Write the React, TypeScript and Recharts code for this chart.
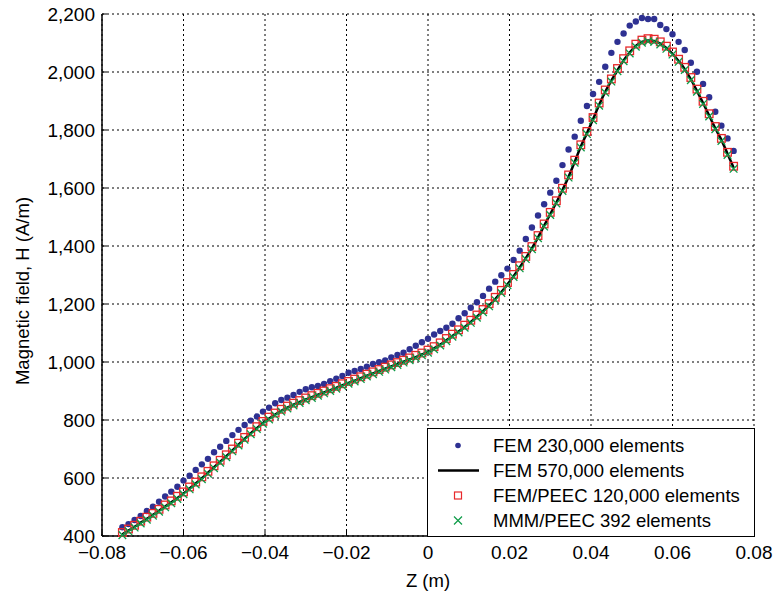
import React from "react";
import { ComposedChart, Line, Scatter, XAxis, YAxis, CartesianGrid } from "recharts";

// axial position along the coil (m)
const zPoints = [
  -0.075, -0.0735, -0.072, -0.0705, -0.069, -0.0675, -0.066, -0.0645, -0.063, -0.0615,
  -0.06, -0.0585, -0.057, -0.0555, -0.054, -0.0525, -0.051, -0.0495, -0.048, -0.0465,
  -0.045, -0.0435, -0.042, -0.0405, -0.039, -0.0375, -0.036, -0.0345, -0.033, -0.0315,
  -0.03, -0.0285, -0.027, -0.0255, -0.024, -0.0225, -0.021, -0.0195, -0.018, -0.0165,
  -0.015, -0.0135, -0.012, -0.0105, -0.009, -0.0075, -0.006, -0.0045, -0.003, -0.0015,
  0, 0.0015, 0.003, 0.0045, 0.006, 0.0075, 0.009, 0.0105, 0.012, 0.0135,
  0.015, 0.0165, 0.018, 0.0195, 0.021, 0.0225, 0.024, 0.0255, 0.027, 0.0285,
  0.03, 0.0315, 0.033, 0.0345, 0.036, 0.0375, 0.039, 0.0405, 0.042, 0.0435,
  0.045, 0.0465, 0.048, 0.0495, 0.051, 0.0525, 0.054, 0.0555, 0.057, 0.0585,
  0.06, 0.0615, 0.063, 0.0645, 0.066, 0.0675, 0.069, 0.0705, 0.072, 0.0735,
  0.075,
];

const fem230k = [
  430, 441, 455, 469, 486, 501, 518, 536, 553, 570,
  591, 608, 628, 647, 666, 689, 708, 728, 748, 766,
  783, 798, 812, 829, 842, 858, 869, 877, 886, 897,
  906, 913, 917, 924, 934, 942, 952, 963, 969, 976,
  984, 993, 999, 1005, 1016, 1024, 1032, 1044, 1056, 1068,
  1080, 1095, 1107, 1118, 1132, 1151, 1168, 1187, 1206, 1228,
  1253, 1277, 1299, 1322, 1352, 1384, 1424, 1464, 1505, 1544,
  1584, 1625, 1679, 1733, 1777, 1832, 1883, 1924, 1966, 2018,
  2066, 2104, 2133, 2160, 2174, 2186, 2183, 2183, 2162, 2148,
  2130, 2104, 2076, 2032, 2001, 1959, 1913, 1863, 1815, 1771,
  1728,
];

const fem570k = [
  406, 419, 432, 446, 459, 473, 487, 502, 516, 531,
  547, 564, 581, 599, 618, 637, 656, 675, 695, 715,
  735, 754, 772, 790, 805, 819, 832, 843, 853, 862,
  871, 879, 887, 895, 903, 911, 920, 928, 936, 944,
  953, 961, 969, 977, 985, 993, 1001, 1009, 1017, 1026,
  1035, 1047, 1060, 1075, 1090, 1105, 1121, 1138, 1156, 1175,
  1195, 1217, 1241, 1268, 1296, 1326, 1358, 1392, 1430, 1470,
  1510, 1550, 1593, 1639, 1690, 1743, 1789, 1837, 1887, 1932,
  1970, 2006, 2040, 2067, 2090, 2104, 2109, 2107, 2098, 2083,
  2063, 2038, 2010, 1975, 1935, 1893, 1850, 1806, 1766, 1718,
  1670,
];

const femPeec = [
  412, 424, 437, 451, 465, 478, 492, 507, 521, 537,
  552, 569, 586, 604, 623, 642, 661, 680, 700, 720,
  740, 759, 777, 795, 810, 824, 837, 848, 858, 867,
  876, 884, 892, 900, 908, 916, 925, 933, 941, 949,
  958, 966, 974, 982, 990, 998, 1006, 1014, 1023, 1031,
  1041, 1053, 1066, 1081, 1096, 1111, 1127, 1144, 1162, 1181,
  1201, 1223, 1247, 1274, 1302, 1332, 1364, 1398, 1436, 1476,
  1516, 1556, 1599, 1645, 1696, 1749, 1795, 1843, 1893, 1938,
  1976, 2012, 2046, 2073, 2096, 2110, 2115, 2113, 2104, 2089,
  2069, 2044, 2016, 1981, 1941, 1899, 1856, 1812, 1771, 1723,
  1675,
];

const mmmPeec = [
  403, 416, 429, 443, 456, 470, 484, 499, 513, 528,
  544, 561, 578, 596, 615, 634, 653, 672, 692, 712,
  732, 751, 769, 787, 802, 816, 829, 840, 850, 859,
  868, 876, 884, 892, 900, 908, 917, 925, 933, 941,
  950, 958, 966, 974, 982, 990, 998, 1006, 1014, 1023,
  1032, 1044, 1057, 1072, 1087, 1102, 1118, 1135, 1153, 1172,
  1192, 1214, 1238, 1265, 1293, 1323, 1355, 1389, 1427, 1467,
  1507, 1547, 1590, 1636, 1687, 1740, 1786, 1834, 1884, 1929,
  1967, 2003, 2037, 2064, 2087, 2101, 2106, 2104, 2095, 2080,
  2060, 2035, 2007, 1972, 1932, 1890, 1847, 1803, 1762, 1714,
  1666,
];

const xTicks = [-0.08, -0.06, -0.04, -0.02, 0, 0.02, 0.04, 0.06, 0.08];
const yTicks = [400, 600, 800, 1000, 1200, 1400, 1600, 1800, 2000, 2200];

const FONT = "'Liberation Sans', Arial, Helvetica, sans-serif";
const BLUE = "#2e3192";
const RED = "#e8282b";
const GREEN = "#0e9b48";

const toPoints = (hs: number[]) => zPoints.map((z, i) => ({ z, h: hs[i] }));

const fmtZ = (v: number) =>
  v === 0 ? "0" : (v < 0 ? "\u2212" : "") + Math.abs(v).toFixed(2);
const fmtH = (v: number) => v.toLocaleString("en-US");

const BlueDot = (p: any) => <circle cx={p.cx} cy={p.cy} r={3.2} fill={BLUE} />;
const RedSquare = (p: any) => (
  <rect x={p.cx - 3.8} y={p.cy - 3.8} width={7.6} height={7.6} fill="none" stroke={RED} strokeWidth={1.3} />
);
const GreenCross = (p: any) => (
  <path
    d={`M${p.cx - 3.8},${p.cy - 3.8}L${p.cx + 3.8},${p.cy + 3.8}M${p.cx + 3.8},${p.cy - 3.8}L${p.cx - 3.8},${p.cy + 3.8}`}
    stroke={GREEN}
    strokeWidth={1.3}
    fill="none"
  />
);

const tickStyle = { fill: "#000", fontSize: 19, fontFamily: FONT };

const YTitle = () => (
  <text
    x={22}
    y={291}
    transform="rotate(-90 22 291)"
    textAnchor="middle"
    dominantBaseline="central"
    fontSize={18.5}
    fontFamily={FONT}
    fill="#000"
  >
    Magnetic field, H (A/m)
  </text>
);

const legendItems = [
  { name: "FEM 230,000 elements", kind: "dot" },
  { name: "FEM 570,000 elements", kind: "line" },
  { name: "FEM/PEEC 120,000 elements", kind: "square" },
  { name: "MMM/PEEC 392 elements", kind: "cross" },
];

function LegendSymbol({ kind }: { kind: string }) {
  return (
    <svg width={44} height={25} style={{ position: "absolute", left: 9, top: 0 }}>
      {kind === "dot" && <circle cx={21} cy={12.5} r={2.8} fill={BLUE} />}
      {kind === "line" && <line x1={1} x2={42} y1={12.5} y2={12.5} stroke="#000" strokeWidth={2.5} />}
      {kind === "square" && (
        <rect x={17.5} y={9} width={7} height={7} fill="none" stroke={RED} strokeWidth={1.2} />
      )}
      {kind === "cross" && (
        <path d="M17,8.5L25,16.5M25,8.5L17,16.5" stroke={GREEN} strokeWidth={1.2} />
      )}
    </svg>
  );
}

export default function App() {
  return (
    <div style={{ position: "absolute", left: 0, top: 0, width: 779, height: 596, background: "#fff" }}>
      <ComposedChart width={779} height={596} margin={{ top: 14, right: 25, bottom: 0, left: 0 }}>
        <CartesianGrid stroke="#000" strokeDasharray="2 3" strokeWidth={1} />
        <XAxis
          dataKey="z"
          type="number"
          domain={[-0.08, 0.08]}
          ticks={xTicks}
          tickFormatter={fmtZ}
          height={60}
          tick={tickStyle}
          tickSize={-5}
          tickMargin={15}
          axisLine={{ stroke: "#000", strokeWidth: 1.5 }}
          tickLine={{ stroke: "#000" }}
          label={{ value: "Z (m)", position: "insideBottom", offset: 9, fill: "#000", fontSize: 18.5, fontFamily: FONT }}
        />
        <XAxis
          xAxisId="top"
          orientation="top"
          type="number"
          domain={[-0.08, 0.08]}
          ticks={xTicks}
          height={0}
          mirror
          tick={false}
          tickSize={5}
          axisLine={{ stroke: "#000", strokeWidth: 1.5 }}
          tickLine={{ stroke: "#000" }}
        />
        <YAxis
          type="number"
          domain={[400, 2200]}
          ticks={yTicks}
          tickFormatter={fmtH}
          width={102}
          tick={tickStyle}
          tickSize={-5}
          tickMargin={12}
          axisLine={{ stroke: "#000", strokeWidth: 1.5 }}
          tickLine={{ stroke: "#000" }}
          label={YTitle}
        />
        <YAxis
          yAxisId="right"
          orientation="right"
          type="number"
          domain={[400, 2200]}
          ticks={yTicks}
          width={0}
          mirror
          tick={false}
          tickSize={5}
          axisLine={{ stroke: "#000", strokeWidth: 1.5 }}
          tickLine={{ stroke: "#000" }}
        />
        <Scatter
          name="FEM 230,000 elements"
          data={toPoints(fem230k)}
          dataKey="h"
          shape={BlueDot}
          isAnimationActive={false}
        />
        <Line
          name="FEM 570,000 elements"
          data={toPoints(fem570k)}
          dataKey="h"
          type="monotone"
          stroke="#000"
          strokeWidth={2.5}
          dot={false}
          activeDot={false}
          isAnimationActive={false}
        />
        <Scatter
          name="FEM/PEEC 120,000 elements"
          data={toPoints(femPeec)}
          dataKey="h"
          shape={RedSquare}
          isAnimationActive={false}
        />
        <Scatter
          name="MMM/PEEC 392 elements"
          data={toPoints(mmmPeec)}
          dataKey="h"
          shape={GreenCross}
          isAnimationActive={false}
        />
      </ComposedChart>
      <div
        style={{
          position: "absolute",
          left: 427,
          top: 428,
          width: 328,
          height: 109,
          boxSizing: "border-box",
          border: "1.5px solid #000",
          background: "#fff",
          fontFamily: FONT,
          fontSize: 18.5,
          color: "#000",
        }}
      >
        {legendItems.map((it, i) => (
          <div
            key={it.name}
            style={{ position: "absolute", left: 0, top: 4 + i * 25, height: 25, width: "100%", lineHeight: "25px" }}
          >
            <LegendSymbol kind={it.kind} />
            <span style={{ position: "absolute", left: 65, top: 0, whiteSpace: "nowrap" }}>{it.name}</span>
          </div>
        ))}
      </div>
    </div>
  );
}
